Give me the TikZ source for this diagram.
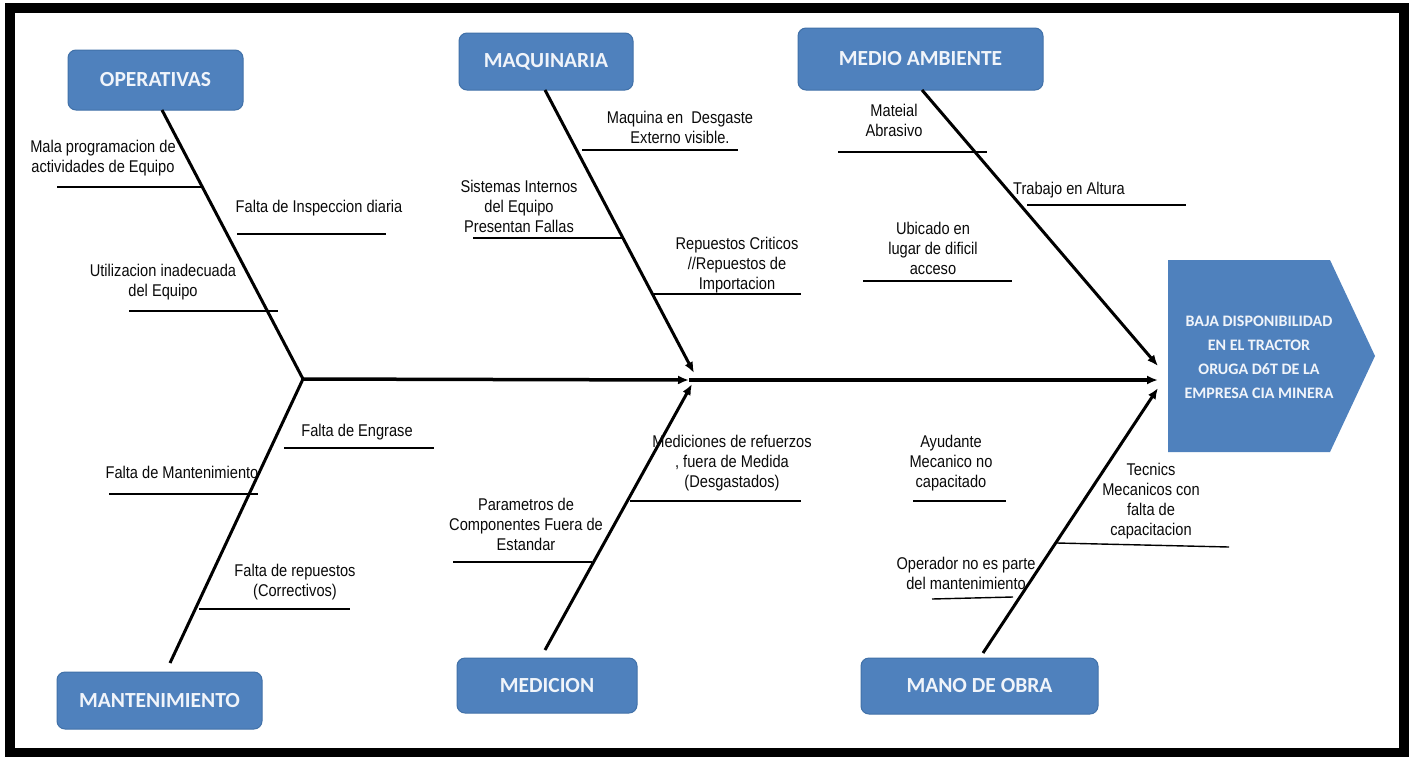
\documentclass[tikz,border=0pt]{standalone}
\usepackage{fontspec}
\setmainfont{Liberation Sans}
\newfontfamily\narrowfont[FakeStretch=0.86]{Liberation Sans}
\newfontfamily\titlefont{Carlito}
\usetikzlibrary{arrows.meta}
\definecolor{boxblue}{RGB}{79,129,189}
\definecolor{boxedge}{RGB}{65,113,168}
\definecolor{titletext}{RGB}{240,244,250}
\definecolor{lbltext}{RGB}{10,10,10}
\begin{document}
\begin{tikzpicture}[x=1pt,y=-1pt,
  catbox/.style={draw=boxedge, line width=1, fill=boxblue, rounded corners=8, inner sep=0,
    text=titletext, font=\titlefont\bfseries\fontsize{21.5}{24}\selectfont},
  lbl/.style={font=\narrowfont\fontsize{17}{20}\selectfont, align=center, inner sep=0, text=lbltext},
  bone/.style={line width=3, black},
  spine/.style={line width=3.5, black},
  sub/.style={line width=1.4, black},
  arr/.style={-{Latex[length=11,width=9]}}]
\useasboundingbox (0,0) rectangle (1414,756);
\fill[white] (0,0) rectangle (1414,756);
\draw[line width=10] (10,8) rectangle (1404,753);

% category boxes
\node[catbox, minimum width=175, minimum height=60] (op) at (155.5,80) {OPERATIVAS};
\node[catbox, minimum width=174, minimum height=57] (maq) at (546,61.5) {MAQUINARIA};
\node[catbox, minimum width=245, minimum height=62] (med) at (920.5,59) {MEDIO AMBIENTE};
\node[catbox, minimum width=205, minimum height=57] (mant) at (159.5,700.5) {MANTENIMIENTO};
\node[catbox, minimum width=180, minimum height=55] (medi) at (547,685.5) {MEDICION};
\node[catbox, minimum width=237, minimum height=56] (mano) at (979.5,686) {MANO DE OBRA};

% effect head
\fill[boxblue] (1168,260) -- (1330,260) -- (1375,356) -- (1330,452) -- (1168,452) -- cycle;
\node[align=center, inner sep=0, text=titletext, font=\titlefont\bfseries\fontsize{16}{24}\selectfont]
  (effect) at (1259,357.5) {BAJA DISPONIBILIDAD\\EN EL TRACTOR\\ORUGA D6T DE LA\\EMPRESA CIA MINERA};

% junctions and bone ends
\coordinate (J1) at (303,379);
\coordinate (J2) at (689,380);
\coordinate (J3) at (1158,380);
\coordinate (s1) at (162,110);
\coordinate (s2) at (545,90);
\coordinate (s3) at (922,90);
\coordinate (s4) at (170,663);
\coordinate (s5) at (545,650);
\coordinate (s6) at (983,653);
\coordinate (e2) at (694,373);
\coordinate (e5) at (692,384);
\coordinate (e3) at (1158,366);
\coordinate (e6) at (1158,388);

% spine
\draw[spine, arr] (J1) -- (J2);
\draw[spine, arr] (J2) -- (J3);

% bones
\draw[bone] (s1) -- (J1);
\draw[bone] (s4) -- (J1);
\draw[bone, arr] (s2) -- (e2);
\draw[bone, arr] (s5) -- (e5);
\draw[bone, arr] (s3) -- (e3);
\draw[bone, arr] (s6) -- (e6);

% OPERATIVAS causes
\node[lbl] (c11) at (103,158) {Mala programacion de\\actividades de Equipo};
\coordinate (u11a) at (57,187); \coordinate (u11b) at (202,187);
\draw[sub] (u11a) -- (u11b);
\node[lbl] (c12) at (319,208) {Falta de Inspeccion diaria};
\coordinate (u12a) at (237,234); \coordinate (u12b) at (386,234);
\draw[sub] (u12a) -- (u12b);
\node[lbl] (c13) at (163,282) {Utilizacion inadecuada\\del Equipo};
\coordinate (u13a) at (129,311); \coordinate (u13b) at (278,311);
\draw[sub] (u13a) -- (u13b);

% MAQUINARIA causes
\node[lbl] (c21) at (680,127) {Maquina en~ Desgaste\\Externo visible.};
\coordinate (u21a) at (582,150); \coordinate (u21b) at (738,150);
\draw[sub] (u21a) -- (u21b);
\node[lbl] (c22) at (519,206) {Sistemas Internos\\del Equipo\\Presentan Fallas};
\coordinate (u22a) at (473,238); \coordinate (u22b) at (622,238);
\draw[sub] (u22a) -- (u22b);
\node[lbl] (c23) at (737,265) {Repuestos Criticos\\//Repuestos de\\Importacion};
\coordinate (u23a) at (653,294); \coordinate (u23b) at (801,294);
\draw[sub] (u23a) -- (u23b);

% MEDIO AMBIENTE causes
\node[lbl] (c31) at (894,120) {Mateial\\Abrasivo};
\coordinate (u31a) at (838,152); \coordinate (u31b) at (987,152);
\draw[sub] (u31a) -- (u31b);
\node[lbl] (c32) at (1069,190) {Trabajo en Altura};
\coordinate (u32a) at (1027,205); \coordinate (u32b) at (1186,205);
\draw[sub] (u32a) -- (u32b);
\node[lbl] (c33) at (933,248) {Ubicado en\\lugar de dificil\\acceso};
\coordinate (u33a) at (863,281); \coordinate (u33b) at (1012,281);
\draw[sub] (u33a) -- (u33b);

% MANTENIMIENTO causes
\node[lbl] (c41) at (357,432) {Falta de Engrase};
\coordinate (u41a) at (284,448); \coordinate (u41b) at (434,448);
\draw[sub] (u41a) -- (u41b);
\node[lbl] (c42) at (182,472) {Falta de Mantenimiento};
\coordinate (u42a) at (109,494); \coordinate (u42b) at (258,494);
\draw[sub] (u42a) -- (u42b);
\node[lbl] (c43) at (295,582) {Falta de repuestos\\(Correctivos)};
\coordinate (u43a) at (199,609); \coordinate (u43b) at (350,609);
\draw[sub] (u43a) -- (u43b);

% MEDICION causes
\node[lbl] (c51) at (732,463) {Mediciones de refuerzos\\, fuera de Medida\\(Desgastados)};
\coordinate (u51a) at (630,501); \coordinate (u51b) at (801,501);
\draw[sub] (u51a) -- (u51b);
\node[lbl] (c52) at (526,524) {Parametros de\\Componentes Fuera de\\Estandar};
\coordinate (u52a) at (453,562); \coordinate (u52b) at (592,562);
\draw[sub] (u52a) -- (u52b);

% MANO DE OBRA causes
\node[lbl] (c61) at (951,463) {Ayudante\\Mecanico no\\capacitado};
\coordinate (u61a) at (913,501); \coordinate (u61b) at (1006,501);
\draw[sub] (u61a) -- (u61b);
\node[lbl] (c62) at (1151,501) {Tecnics\\Mecanicos con\\falta de\\capacitacion};
\coordinate (u62a) at (1057,543); \coordinate (u62b) at (1229,547);
\draw[sub] (u62a) -- (u62b);
\node[lbl] (c63) at (966,573) {Operador no es parte\\del mantenimiento};
\coordinate (u63a) at (932,599); \coordinate (u63b) at (1013,597);
\draw[sub] (u63a) -- (u63b);
\end{tikzpicture}
\end{document}
